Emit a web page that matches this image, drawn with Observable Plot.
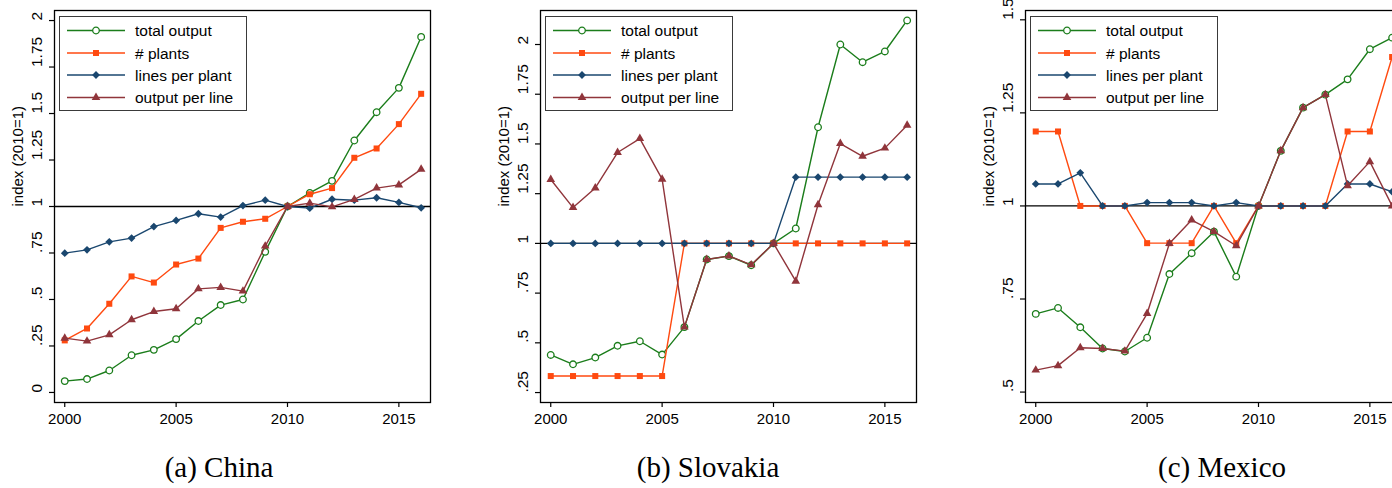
<!DOCTYPE html>
<html><head><meta charset="utf-8">
<script src="https://cdn.jsdelivr.net/npm/d3@7"></script>
<script src="https://cdn.jsdelivr.net/npm/@observablehq/plot@0.6"></script>
<style>
html,body{margin:0;padding:0;background:#fff;}
body{width:1392px;height:488px;overflow:hidden;position:relative;font-family:"Liberation Sans",Arial,sans-serif;}
.panel{position:absolute;top:0;width:464px;height:430px;}
.caption{position:absolute;top:453px;font-family:"Liberation Serif",serif;font-size:29px;line-height:28px;transform:translateX(-50%);white-space:nowrap;color:#000;}
.legend{position:absolute;top:16px;width:188px;height:95px;box-sizing:border-box;border:1.5px solid #3a3a3a;background:#fff;}
</style></head><body>
<script>
// ---------- data ----------
const years = [2000,2001,2002,2003,2004,2005,2006,2007,2008,2009,2010,2011,2012,2013,2014,2015,2016];
const seriesNames = ["total output", "# plants", "lines per plant", "output per line"];
const seriesColors = ["#1b7d1b", "#ff4a10", "#1a476f", "#90353b"];

const chinaTotal  = [0.061,0.072,0.118,0.200,0.229,0.287,0.384,0.470,0.500,0.756,1,1.073,1.138,1.355,1.507,1.638,1.912];
const chinaPlants = [0.280,0.344,0.477,0.624,0.591,0.688,0.720,0.885,0.918,0.934,1,1.066,1.099,1.262,1.312,1.443,1.606];
const chinaLines  = [0.749,0.767,0.810,0.830,0.892,0.925,0.961,0.943,1.005,1.034,1,0.991,1.039,1.034,1.047,1.022,0.993];
const chinaOPL    = [0.292,0.276,0.310,0.391,0.435,0.450,0.557,0.565,0.545,0.787,1,1.018,0.998,1.038,1.099,1.116,1.200];

const slovakiaTotal  = [0.439,0.392,0.426,0.485,0.508,0.441,0.579,0.919,0.936,0.890,1,1.075,1.584,2.000,1.911,1.965,2.121];
const slovakiaPlants = [0.333,0.333,0.333,0.333,0.333,0.333,1,1,1,1,1,1,1,1,1,1,1];
const slovakiaLines  = [1,1,1,1,1,1,1,1,1,1,1,1.333,1.333,1.333,1.333,1.333,1.333];
const slovakiaOPL    = [1.321,1.180,1.279,1.457,1.527,1.323,0.579,0.919,0.937,0.892,1,0.810,1.194,1.502,1.438,1.479,1.594];

const mexicoTotal  = [0.710,0.726,0.674,0.617,0.609,0.646,0.817,0.873,0.931,0.810,1,1.148,1.264,1.299,1.340,1.421,1.452];
const mexicoPlants = [1.2,1.2,1,1,1,0.9,0.9,0.9,1,0.9,1,1,1,1,1.2,1.2,1.4];
const mexicoLines  = [1.059,1.059,1.089,1,1,1.009,1.009,1.009,1,1.009,1,1,1,1,1.059,1.059,1.038];
const mexicoOPL    = [0.559,0.571,0.619,0.617,0.610,0.711,0.899,0.962,0.931,0.893,1,1.148,1.264,1.299,1.054,1.119,1.000];

const xTicks = [2000, 2005, 2010, 2015];
const chinaYTicks    = [0, 0.25, 0.5, 0.75, 1, 1.25, 1.5, 1.75, 2];
const slovakiaYTicks = [0.25, 0.5, 0.75, 1, 1.25, 1.5, 1.75, 2];
const mexicoYTicks   = [0.5, 0.75, 1, 1.25, 1.5];
const yTitle = "index (2010=1)";
const captions = ["(a) China", "(b) Slovakia", "(c) Mexico"];

// ---------- styling helpers ----------
const diamond = {draw(ctx, size) { const h = Math.sqrt(size / 2); ctx.moveTo(0, -h); ctx.lineTo(h, 0); ctx.lineTo(0, h); ctx.lineTo(-h, 0); ctx.closePath(); }};
const symbols = ["circle", "square", diamond, "triangle"];
const radii = [3.3, 3.4, 3.1, 3.2];
const fmt = d => String(d).replace(/^0\./, ".");

function makePanel(seriesValues, yDomain, yTicks) {
  const marks = [Plot.ruleY([1], {stroke: "#000", strokeWidth: 1.3})];
  seriesValues.forEach((vals, k) => {
    const rows = years.map((yr, i) => ({year: yr, value: vals[i]}));
    marks.push(Plot.line(rows, {x: "year", y: "value", stroke: seriesColors[k], strokeWidth: 1.4}));
    marks.push(Plot.dot(rows, {
      x: "year", y: "value", symbol: () => symbols[k], r: radii[k],
      stroke: seriesColors[k], strokeWidth: k === 0 ? 1.3 : 0,
      fill: k === 0 ? "#fff" : seriesColors[k]
    }));
  });
  marks.push(Plot.frame({stroke: "#000", strokeWidth: 1.3}));
  marks.push(Plot.axisX(xTicks, {tickSize: 5, tickPadding: 6, tickFormat: d => String(d), fontSize: 15, stroke: "#000", strokeWidth: 1.2, label: null}));
  marks.push(Plot.axisY(yTicks, {tickSize: 5, tickFormat: () => "", stroke: "#000", strokeWidth: 1.2, label: null}));
  marks.push(Plot.text(yTicks, {y: d => d, text: fmt, frameAnchor: "left", dx: -17, rotate: -90, fontSize: 15.5, fill: "#000"}));
  marks.push(Plot.text([yTitle], {text: d => d, frameAnchor: "left", dx: -36, rotate: -90, fontSize: 15, fill: "#000"}));
  return Plot.plot({
    width: 464, height: 430,
    marginLeft: 54, marginRight: 34, marginTop: 10, marginBottom: 28,
    x: {domain: [1999.54, 2016.42], axis: null, label: null},
    y: {domain: yDomain, axis: null, label: null},
    symbol: {type: "identity"},
    style: {fontFamily: "'Liberation Sans', Arial, sans-serif", fontSize: "15px", background: "transparent", overflow: "visible", color: "#000"},
    marks
  });
}

function makeLegend() {
  const div = document.createElement("div");
  div.className = "legend";
  const svg = d3.select(div).append("svg").attr("width", 185).attr("height", 92).style("display", "block");
  const rowY = [13.5, 36, 58, 80.5];
  seriesNames.forEach((name, k) => {
    const g = svg.append("g").attr("transform", `translate(0,${rowY[k]})`);
    g.append("line").attr("x1", 7).attr("x2", 65).attr("stroke", seriesColors[k]).attr("stroke-width", 1.4);
    const size = radii[k] * radii[k] * Math.PI;
    const sym = k === 0 ? d3.symbolCircle : k === 1 ? d3.symbolSquare : k === 2 ? diamond : d3.symbolTriangle;
    g.append("path").attr("transform", "translate(36,0)").attr("d", d3.symbol(sym, size)())
      .attr("fill", k === 0 ? "#fff" : seriesColors[k]).attr("stroke", k === 0 ? seriesColors[k] : "none").attr("stroke-width", 1.3);
    g.append("text").attr("x", 75).attr("y", 5.5).attr("font-size", 15.5).attr("fill", "#000")
      .attr("font-family", "'Liberation Sans', Arial, sans-serif").text(name);
  });
  return div;
}

const panels = [
  {left: 0,   data: [chinaTotal, chinaPlants, chinaLines, chinaOPL], domain: [-0.054, 2.054], ticks: chinaYTicks, cap: 219},
  {left: 486, data: [slovakiaTotal, slovakiaPlants, slovakiaLines, slovakiaOPL], domain: [0.2, 2.171], ticks: slovakiaYTicks, cap: 708},
  {left: 971, data: [mexicoTotal, mexicoPlants, mexicoLines, mexicoOPL], domain: [0.472, 1.525], ticks: mexicoYTicks, cap: 1222}
];

panels.forEach((p, i) => {
  const wrap = document.createElement("div");
  wrap.className = "panel";
  wrap.style.left = p.left + "px";
  wrap.appendChild(makePanel(p.data, p.domain, p.ticks));
  const leg = makeLegend();
  leg.style.left = "59px";
  wrap.appendChild(leg);
  document.body.appendChild(wrap);
  const cap = document.createElement("div");
  cap.className = "caption";
  cap.style.left = p.cap + "px";
  cap.textContent = captions[i];
  document.body.appendChild(cap);
});
</script>
</body></html>
